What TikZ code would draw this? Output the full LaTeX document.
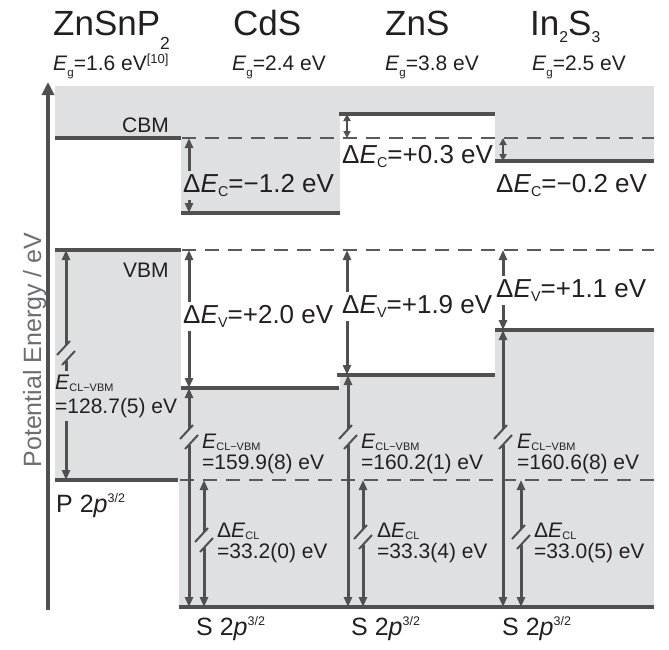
\documentclass[tikz,border=0pt]{standalone}
\usepackage{fontspec}
\setmainfont{Liberation Sans}
\usepackage{graphicx}
\usetikzlibrary{arrows.meta,calc}
\definecolor{fillg}{HTML}{DFE0E2}
\definecolor{lc}{HTML}{505050}
\definecolor{dc}{HTML}{5A5A5A}
\definecolor{tc}{HTML}{231F20}
\definecolor{axc}{HTML}{6D6E71}
\newcommand\fs[1]{\fontsize{#1}{#1}\selectfont}
\newcommand\Sb[1]{\raisebox{-0.18em}{\scalebox{0.55}{#1}}}
\newcommand\Sbl[1]{\raisebox{-0.12em}{\scalebox{0.52}{#1}}}
\newcommand\Spp[1]{\raisebox{0.38em}{\scalebox{0.5}{#1}}}
\newcommand\brkarrow[5]{%
  \coordinate (#1t) at (#2,#3);
  \coordinate (#1b) at (#2,#4);
  \coordinate (#1m) at (#2,#5);
  \draw[arrs] ($(#1m)+(0,-8)$) -- (#1t);
  \draw[arrs] ($(#1m)+(0,8)$) -- (#1b);
  \draw[slash] ($(#1m)+(-9,2)$) -- ++(13,-14);
  \draw[slash] ($(#1m)+(-4,12)$) -- ++(13,-14);}
\begin{document}
\begin{tikzpicture}[x=1pt,y=-1pt,
  lvl/.style={line width=4pt, draw=lc},
  dsh/.style={line width=2pt, draw=dc, dash pattern=on 14pt off 9pt},
  arrs/.style={line width=3pt, draw=lc, -{Triangle[width=8pt,length=10pt]}},
  dbl/.style={line width=3pt, draw=lc, {Triangle[width=8pt,length=10pt]}-{Triangle[width=8pt,length=10pt]}},
  sdbl/.style={line width=2.5pt, draw=lc, {Triangle[width=7pt,length=7pt]}-{Triangle[width=7pt,length=7pt]}},
  slash/.style={line width=2pt, draw=lc},
  txt/.style={text=tc, inner sep=0pt, anchor=base west},
  hdr/.style={txt, font=\fs{35}},
  eg/.style={txt, font=\fs{21}},
  mid/.style={txt, font=\fs{26}, inner ysep=3pt},
  cl/.style={txt, font=\fs{21}},
  bot/.style={txt, font=\fs{25}},
  band/.style={txt, font=\fs{21}}]
\useasboundingbox (0,0) rectangle (669,649);
% background regions
\fill[fillg] (55,86) rectangle (654,607);
\fill[white] (55,138) rectangle (181,250);
\fill[white] (55,480) rectangle (179,609);
\fill[white] (181,213) rectangle (340,388);
\fill[white] (340,114) rectangle (495,375);
\fill[white] (495,161) rectangle (654,330);
% dashed reference lines
\draw[dsh] (182,138) -- (654,138);
\draw[dsh] (182,250) -- (654,250);
\draw[dsh] (180,480) -- (654,480);
% levels
\draw[lvl] (55,138) -- (181,138);
\draw[lvl] (55,250) -- (181,250);
\draw[lvl] (55,480) -- (178,480);
\draw[lvl] (181,213) -- (340,213);
\draw[lvl] (181,388) -- (339,388);
\draw[lvl] (179,607) -- (654,607);
\draw[lvl] (339,114) -- (495,114);
\draw[lvl] (337,375) -- (495,375);
\draw[lvl] (495,161) -- (654,161);
\draw[lvl] (495,330) -- (654,330);
% axis
\coordinate (ax0) at (48,610);
\coordinate (ax1) at (48,82);
\draw[line width=4pt, draw=lc, -{Triangle[width=12pt,length=13pt]}] (ax0) -- (ax1);
\node[rotate=90, anchor=base, text=axc, font=\fs{25}, inner sep=0pt] (axl) at (41,350) {Potential Energy / eV};
% arrows
\coordinate (cdc1) at (189,138); \coordinate (cdc2) at (189,213);
\draw[dbl] (cdc1) -- (cdc2);
\coordinate (cdv1) at (189,250); \coordinate (cdv2) at (189,388);
\draw[dbl] (cdv1) -- (cdv2);
\coordinate (znc1) at (347,114); \coordinate (znc2) at (347,138);
\draw[sdbl] (znc1) -- (znc2);
\coordinate (znv1) at (347,250); \coordinate (znv2) at (347,375);
\draw[dbl] (znv1) -- (znv2);
\coordinate (inc1) at (503,138); \coordinate (inc2) at (503,161);
\draw[sdbl] (inc1) -- (inc2);
\coordinate (inv1) at (503,250); \coordinate (inv2) at (503,330);
\draw[dbl] (inv1) -- (inv2);
\brkarrow{zp}{66}{250}{480}{353}
\brkarrow{cdl}{189}{388}{607}{437}
\brkarrow{cdd}{204}{480}{607}{540}
\brkarrow{znl}{348}{375}{607}{437}
\brkarrow{znd}{363}{480}{607}{537}
\brkarrow{inl}{503}{330}{607}{437}
\brkarrow{ind}{521}{480}{607}{537}
% headers
\node[hdr] (h1) at (53,35) {ZnSnP\raisebox{-0.4em}{\scalebox{0.5}{2}}};
\node[hdr] (h2) at (233,35) {CdS};
\node[hdr] (h3) at (385,35) {ZnS};
\node[hdr] (h4) at (530,35) {In\raisebox{-0.22em}{\scalebox{0.45}{2}}S\raisebox{-0.22em}{\scalebox{0.45}{3}}};
\node[eg] (g1) at (53,70) {\textit{E}\raisebox{-0.3em}{\scalebox{0.55}{g}}=1.6 eV\raisebox{0.3em}{\scalebox{0.62}{[10]}}};
\node[eg] (g2) at (232,70) {\textit{E}\raisebox{-0.3em}{\scalebox{0.55}{g}}=2.4 eV};
\node[eg] (g3) at (385,70) {\textit{E}\raisebox{-0.3em}{\scalebox{0.55}{g}}=3.8 eV};
\node[eg] (g4) at (532,70) {\textit{E}\raisebox{-0.3em}{\scalebox{0.55}{g}}=2.5 eV};
% band labels
\node[band] (cbm) at (122,132) {CBM};
\node[band] (vbm) at (123,277) {VBM};
% offset labels
\node[mid, fill=fillg] (l1) at (183,192) {Δ\textit{E}\Sb{C}=−1.2 eV};
\node[mid, fill=white] (l2) at (183,323) {Δ\textit{E}\Sb{V}=+2.0 eV};
\node[mid, fill=white] (l3) at (342,163) {Δ\textit{E}\Sb{C}=+0.3 eV};
\node[mid, fill=white] (l4) at (342,313) {Δ\textit{E}\Sb{V}=+1.9 eV};
\node[mid, fill=white] (l5) at (496,192) {Δ\textit{E}\Sb{C}=−0.2 eV};
\node[mid, fill=white] (l6) at (496,297) {Δ\textit{E}\Sb{V}=+1.1 eV};
% core level labels
\node[cl, fill=fillg, inner ysep=4pt] (e1a) at (55,389) {\textit{E}\Sbl{CL−VBM}};
\node[cl, fill=fillg, inner ysep=4pt] (e1b) at (55,413) {=128.7(5) eV};
\node[cl] (e2a) at (202,448) {\textit{E}\Sbl{CL−VBM}};
\node[cl] (e2b) at (202,469) {=159.9(8) eV};
\node[cl] (e3a) at (361,448) {\textit{E}\Sbl{CL−VBM}};
\node[cl] (e3b) at (361,469) {=160.2(1) eV};
\node[cl] (e4a) at (517,448) {\textit{E}\Sbl{CL−VBM}};
\node[cl] (e4b) at (517,469) {=160.6(8) eV};
\node[cl] (d2a) at (217,537) {Δ\textit{E}\Sbl{CL}};
\node[cl] (d2b) at (217,558) {=33.2(0) eV};
\node[cl] (d3a) at (377,537) {Δ\textit{E}\Sbl{CL}};
\node[cl] (d3b) at (377,558) {=33.3(4) eV};
\node[cl] (d4a) at (534,537) {Δ\textit{E}\Sbl{CL}};
\node[cl] (d4b) at (534,558) {=33.0(5) eV};
% core level names
\node[bot] (p1) at (56,512) {P 2\textit{p}\Spp{3/2}};
\node[bot] (s2) at (196,635) {S 2\textit{p}\Spp{3/2}};
\node[bot] (s3) at (351,635) {S 2\textit{p}\Spp{3/2}};
\node[bot] (s4) at (502,635) {S 2\textit{p}\Spp{3/2}};
\end{tikzpicture}
\end{document}
